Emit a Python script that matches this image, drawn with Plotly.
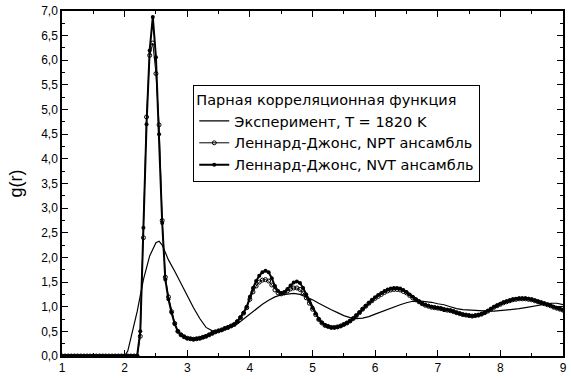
import plotly.graph_objects as go

# Experiment, T = 1820 K
r_exp = [1.0, 1.5, 2.0, 2.05, 2.1, 2.2, 2.3, 2.4, 2.5, 2.55, 2.6, 2.7, 2.8, 2.9,
         3.0, 3.1, 3.2, 3.3, 3.4, 3.5, 3.6, 3.7, 3.8, 3.9, 4.0, 4.1, 4.2, 4.3, 4.4,
         4.5, 4.6, 4.7, 4.8, 4.9, 5.0, 5.1, 5.2, 5.3, 5.4, 5.5, 5.6, 5.7, 5.8, 5.9,
         6.0, 6.1, 6.2, 6.3, 6.4, 6.5, 6.6, 6.7, 6.8, 6.9, 7.0, 7.1, 7.2, 7.3, 7.4,
         7.5, 7.6, 7.7, 7.8, 7.9, 8.0, 8.1, 8.2, 8.3, 8.4, 8.5, 8.6, 8.7, 8.8, 8.9, 9.0]
g_exp = [0.0, 0.0, 0.0, 0.1, 0.35, 0.9, 1.55, 2.03, 2.3, 2.33, 2.25, 1.95, 1.72, 1.47,
         1.22, 0.98, 0.76, 0.58, 0.51, 0.52, 0.56, 0.60, 0.65, 0.75, 0.85, 0.95, 1.05, 1.13, 1.20,
         1.24, 1.26, 1.27, 1.25, 1.20, 1.14, 1.07, 1.00, 0.94, 0.88, 0.82, 0.78, 0.76, 0.77, 0.80,
         0.85, 0.90, 0.95, 0.99, 1.04, 1.08, 1.11, 1.12, 1.11, 1.09, 1.06, 1.04, 1.00, 0.96, 0.94,
         0.93, 0.92, 0.91, 0.91, 0.91, 0.92, 0.93, 0.95, 0.96, 0.98, 1.00, 1.02, 1.05, 1.07, 1.07, 1.04]

# Simulation grid (step 0.05 from 1.0 to 9.0)
r_sim = [round(1.0 + 0.05 * i, 2) for i in range(161)]

g_nvt = [
    0.0, 0.0, 0.0, 0.0, 0.0, 0.0, 0.0, 0.0, 0.0, 0.0,   # 1.00-1.45
    0.0, 0.0, 0.0, 0.0, 0.0, 0.0, 0.0, 0.0, 0.0, 0.0,   # 1.50-1.95
    0.0, 0.0, 0.0, 0.0, 0.0, 0.5, 2.6, 4.7, 6.2, 6.88,  # 2.00-2.45
    6.06, 4.5, 2.7, 1.55, 1.15, 0.88, 0.65, 0.5, 0.43, 0.39,  # 2.50-2.95
    0.36, 0.35, 0.34, 0.35, 0.36, 0.38, 0.40, 0.43, 0.46, 0.49,  # 3.00-3.45
    0.51, 0.53, 0.56, 0.58, 0.61, 0.64, 0.70, 0.78, 0.88, 1.00,  # 3.50-3.95
    1.20, 1.38, 1.52, 1.63, 1.70, 1.73, 1.70, 1.58, 1.42, 1.32,  # 4.00-4.45
    1.28, 1.30, 1.36, 1.43, 1.49, 1.51, 1.48, 1.38, 1.25, 1.12,  # 4.50-4.95
    0.98, 0.86, 0.75, 0.68, 0.63, 0.60, 0.58, 0.58, 0.59, 0.61,  # 5.00-5.45
    0.64, 0.67, 0.71, 0.76, 0.82, 0.89, 0.96, 1.02, 1.08, 1.14,  # 5.50-5.95
    1.19, 1.24, 1.28, 1.32, 1.35, 1.37, 1.38, 1.38, 1.37, 1.34,  # 6.00-6.45
    1.30, 1.25, 1.20, 1.15, 1.11, 1.07, 1.04, 1.02, 1.00, 0.99,  # 6.50-6.95
    0.98, 0.97, 0.95, 0.94, 0.93, 0.91, 0.88, 0.86, 0.84, 0.83,  # 7.00-7.45
    0.82, 0.81, 0.82, 0.83, 0.85, 0.88, 0.92, 0.96, 1.00, 1.03,  # 7.50-7.95
    1.06, 1.09, 1.11, 1.13, 1.15, 1.16, 1.17, 1.17, 1.17, 1.16,  # 8.00-8.45
    1.15, 1.13, 1.11, 1.09, 1.07, 1.05, 1.03, 1.00, 0.98, 0.96,  # 8.50-8.95
    0.94]

g_npt = [
    0.0, 0.0, 0.0, 0.0, 0.0, 0.0, 0.0, 0.0, 0.0, 0.0,
    0.0, 0.0, 0.0, 0.0, 0.0, 0.0, 0.0, 0.0, 0.0, 0.0,
    0.0, 0.0, 0.0, 0.0, 0.0, 0.4, 2.4, 4.85, 6.1, 6.35,
    5.73, 4.69, 2.75, 1.6, 1.2, 0.9, 0.66, 0.5, 0.43, 0.39,
    0.36, 0.35, 0.34, 0.35, 0.36, 0.38, 0.40, 0.43, 0.46, 0.49,
    0.51, 0.53, 0.56, 0.58, 0.61, 0.64, 0.70, 0.78, 0.87, 0.98,
    1.15, 1.30, 1.42, 1.50, 1.54, 1.55, 1.52, 1.44, 1.34, 1.28,
    1.26, 1.28, 1.32, 1.36, 1.38, 1.38, 1.35, 1.28, 1.18, 1.07,
    0.95, 0.84, 0.74, 0.67, 0.62, 0.60, 0.58, 0.58, 0.59, 0.61,
    0.64, 0.67, 0.71, 0.76, 0.82, 0.88, 0.95, 1.01, 1.07, 1.12,
    1.17, 1.21, 1.25, 1.29, 1.32, 1.34, 1.35, 1.35, 1.34, 1.31,
    1.28, 1.23, 1.18, 1.14, 1.10, 1.06, 1.03, 1.01, 0.99, 0.98,
    0.97, 0.96, 0.94, 0.93, 0.92, 0.90, 0.88, 0.86, 0.84, 0.83,
    0.82, 0.81, 0.82, 0.83, 0.85, 0.88, 0.91, 0.95, 0.99, 1.02,
    1.05, 1.08, 1.10, 1.12, 1.14, 1.15, 1.16, 1.16, 1.16, 1.15,
    1.14, 1.12, 1.10, 1.08, 1.06, 1.04, 1.02, 0.99, 0.97, 0.95,
    0.93]

legend_title = "Парная корреляционная функция"
name_exp = "Эксперимент, T = 1820 K"
name_npt = "Леннард-Джонс, NPT ансамбль"
name_nvt = "Леннард-Джонс, NVT ансамбль"

FONT = "Liberation Sans, Arial, sans-serif"
LEG_FONT = "DejaVu Sans, Liberation Sans, sans-serif"

fig = go.Figure()
fig.add_trace(go.Scatter(x=r_exp, y=g_exp, mode="lines", name=name_exp,
                         line=dict(color="black", width=1.2)))
fig.add_trace(go.Scatter(x=r_sim, y=g_npt, mode="lines+markers", name=name_npt,
                         line=dict(color="black", width=1),
                         marker=dict(symbol="circle-open", size=4, color="black",
                                     line=dict(width=1))))
fig.add_trace(go.Scatter(x=r_sim, y=g_nvt, mode="lines+markers", name=name_nvt,
                         line=dict(color="black", width=2),
                         marker=dict(symbol="circle", size=4, color="black")))

fig.update_layout(
    width=571, height=379,
    margin=dict(l=62, r=4, t=7, b=20),
    paper_bgcolor="white", plot_bgcolor="white",
    separators=", ",
    font=dict(family=FONT, size=12, color="black"),
    showlegend=True,
    legend=dict(
        title=dict(text=legend_title, font=dict(size=14.5, family=LEG_FONT)),
        x=0.262, y=0.785, xanchor="left", yanchor="top",
        bordercolor="black", borderwidth=1, bgcolor="white",
        font=dict(size=14.5, family=LEG_FONT), tracegroupgap=0, itemwidth=30,
    ),
)
fig.update_xaxes(
    range=[1, 9], tickmode="linear", tick0=1, dtick=1,
    ticks="inside", ticklen=6, tickcolor="black",
    minor=dict(ticks="inside", ticklen=3, dtick=0.5, tickcolor="black"),
    showline=True, linecolor="black", linewidth=1.5, mirror="ticks",
    showgrid=False, zeroline=False,
    tickfont=dict(size=12),
)
fig.update_yaxes(
    range=[0, 7], tickmode="linear", tick0=0, dtick=0.5, tickformat=".1f",
    ticks="inside", ticklen=6, tickcolor="black",
    minor=dict(ticks="inside", ticklen=3, dtick=0.25, tickcolor="black"),
    showline=True, linecolor="black", linewidth=1.5, mirror="ticks",
    showgrid=False, zeroline=False,
    title=dict(text="g(r)", font=dict(size=18), standoff=14),
    tickfont=dict(size=12),
)

fig.write_html("out.html", config={"displayModeBar": False},
               post_script="document.body.style.margin='0';document.body.style.overflow='hidden';")
